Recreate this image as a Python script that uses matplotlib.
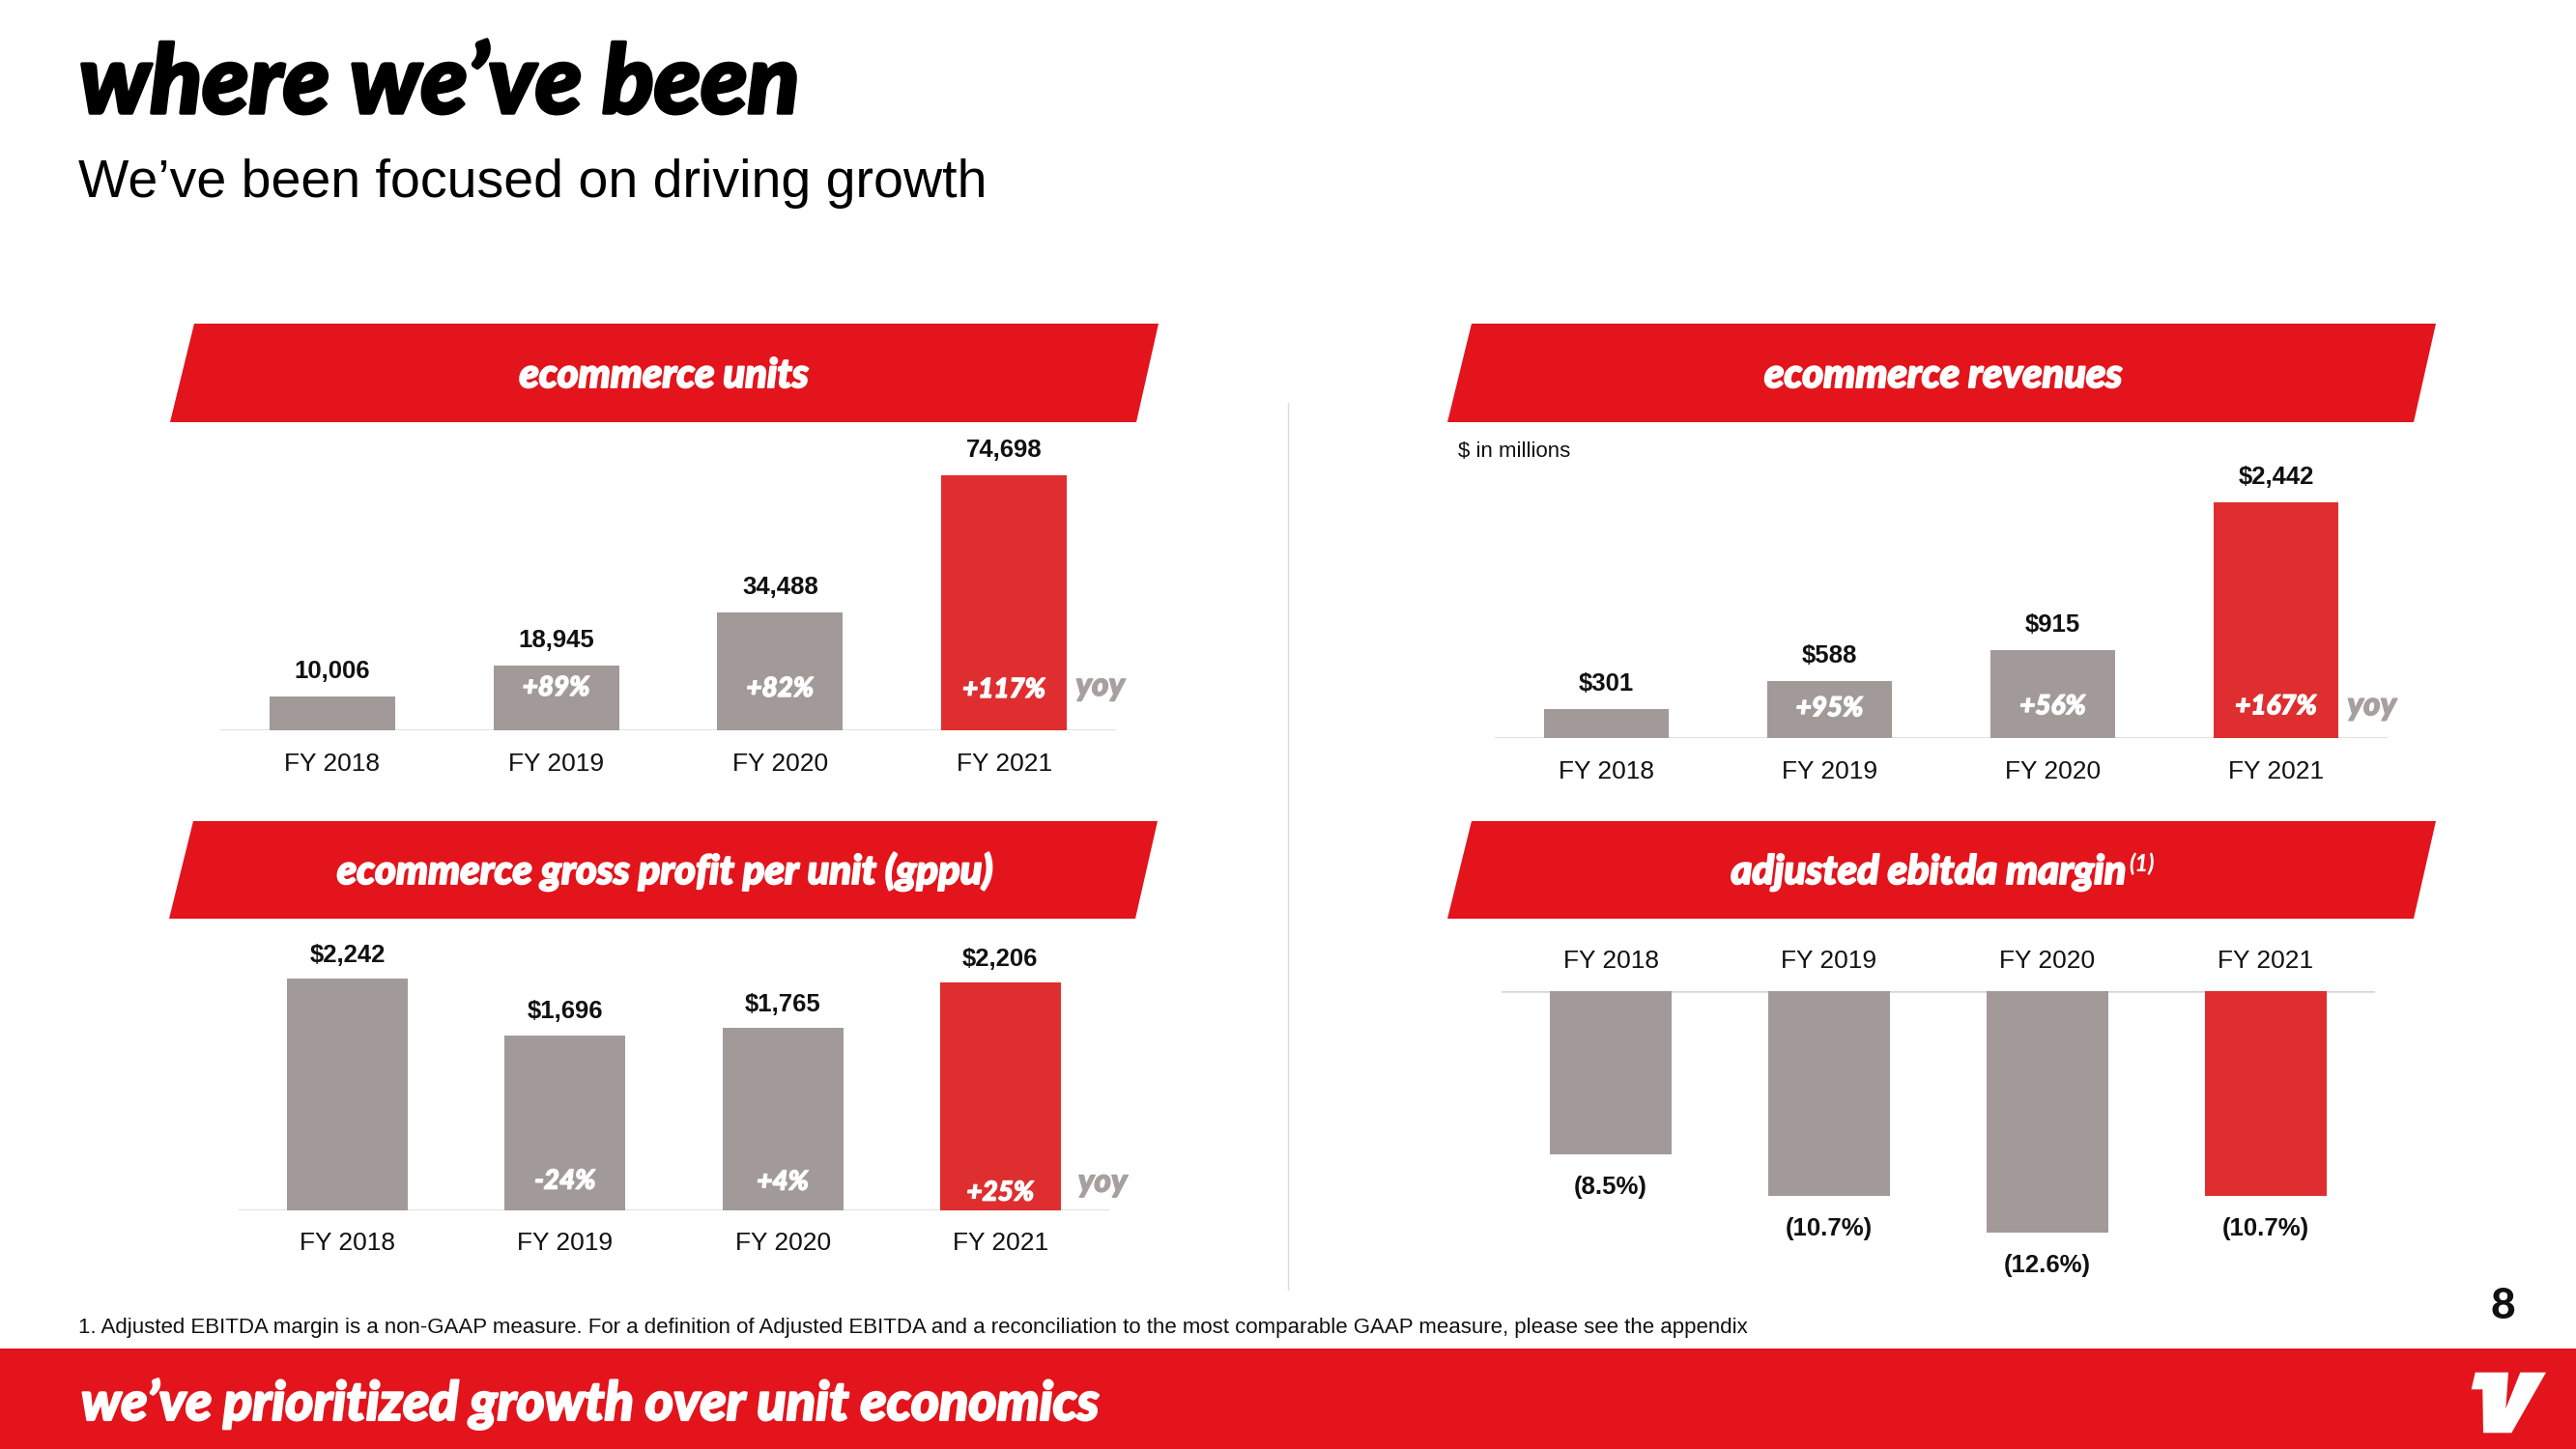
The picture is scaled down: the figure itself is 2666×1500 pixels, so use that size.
import matplotlib
matplotlib.use('Agg')
import matplotlib.pyplot as plt
import matplotlib.patheffects as pe
from matplotlib.patches import Polygon, Rectangle

W, H = 2666, 1500

years = ['FY 2018', 'FY 2019', 'FY 2020', 'FY 2021']
units = [10006, 18945, 34488, 74698]
units_yoy = ['', '+89%', '+82%', '+117%']
revenues = [301, 588, 915, 2442]
revenues_yoy = ['', '+95%', '+56%', '+167%']
gppu = [2242, 1696, 1765, 2206]
gppu_yoy = ['', '-24%', '+4%', '+25%']
ebitda_margin = [-8.5, -10.7, -12.6, -10.7]

RED = '#E3141C'
BAR_RED = '#DF2E2F'
GRAY = '#A29A98'
YOY_GRAY = '#A7A09E'
LINE = '#D6D6D6'
bar_colors = [GRAY, GRAY, GRAY, BAR_RED]

DISPLAY = dict(family=['Lato', 'DejaVu Sans'], weight='black', style='italic')
PLAIN = ['Liberation Sans', 'DejaVu Sans']


def heavy(color, w=1.2):
    return [pe.withStroke(linewidth=w, foreground=color)]


fig = plt.figure(figsize=(W / 100, H / 100), dpi=100)


def panel(x0, x1, base_y, far_y, peak_y, values, width, labels, label_off, fy_off):
    # base_y: pixel row of the zero line, peak_y: row reached by the biggest bar
    scale = abs(base_y - peak_y) / max(abs(v) for v in values)
    top, bottom = min(base_y, far_y), max(base_y, far_y)
    ax = fig.add_axes([x0 / W, 1 - bottom / H, (x1 - x0) / W, (bottom - top) / H])
    span = (bottom - top) / scale
    if far_y < base_y:
        ax.set_ylim(0, span)
    else:
        ax.set_ylim(-span, 0)
    ax.set_xlim(-0.5, 3.5)
    ax.axis('off')
    xs = range(len(values))
    ax.bar(xs, values, width=width, color=bar_colors, zorder=2)
    ax.axhline(0, color=LINE, lw=1.8, zorder=1)
    for i, v in enumerate(values):
        off = label_off if v > 0 else -label_off
        ax.annotate(labels[i], (i, v), xytext=(0, off), textcoords='offset pixels',
                    ha='center', va='baseline', fontsize=18.5, fontweight='bold',
                    family=PLAIN, color='#111111', annotation_clip=False)
        ax.annotate(years[i], (i, 0), xytext=(0, fy_off), textcoords='offset pixels',
                    ha='center', va='baseline', fontsize=19, family=PLAIN,
                    color='#111111', annotation_clip=False)
    return ax


def yoy_labels(ax, texts, offs, yoy_x, yoy_off):
    for i, s in enumerate(texts):
        if s:
            ax.annotate(s, (i, 0), xytext=(0, offs[i]), textcoords='offset pixels',
                        ha='center', va='baseline', fontsize=20, color='white',
                        annotation_clip=False, zorder=3, path_effects=heavy('white', 1.0),
                        **DISPLAY)
    ax.annotate('yoy', (yoy_x, 0), xytext=(0, yoy_off), textcoords='offset pixels',
                ha='center', va='baseline', fontsize=24, color=YOY_GRAY,
                annotation_clip=False, path_effects=heavy(YOY_GRAY, 1.0), **DISPLAY)


ax1 = panel(228, 1155, 756, 440, 491.7, units, 0.56,
            ['{:,}'.format(v) for v in units], 19, -42)
yoy_labels(ax1, units_yoy, [0, 36, 35, 34], 3.43, 36)

ax2 = panel(1547, 2471, 764.3, 455, 520, revenues, 0.558,
            ['${:,}'.format(v) for v in revenues], 19, -42)
yoy_labels(ax2, revenues_yoy, [0, 23, 25, 25], 3.43, 24)

ax3 = panel(247, 1148, 1252.7, 950, 1013.3, gppu, 0.555,
            ['${:,}'.format(v) for v in gppu], 17.5, -41)
yoy_labels(ax3, gppu_yoy, [0, 22, 21, 10], 3.47, 19)

ax4 = panel(1554, 2458, 1025.7, 1300, 1276, ebitda_margin, 0.555,
            ['({:.1f}%)'.format(abs(v)) for v in ebitda_margin], 41, 24)

# page furniture drawn in pixel coordinates
ov = fig.add_axes([0, 0, 1, 1])
ov.set_xlim(0, W)
ov.set_ylim(H, 0)
ov.axis('off')

banners = [
    [(201, 335), (1199, 335), (1176, 437), (176, 437)],
    [(1523, 335), (2521, 335), (2498, 437), (1498, 437)],
    [(200, 850), (1198, 850), (1175, 951), (175, 951)],
    [(1523, 850), (2521, 850), (2498, 951), (1498, 951)],
]
for b in banners:
    ov.add_patch(Polygon(b, closed=True, fc=RED, ec='none'))

banner_style = dict(va='baseline', fontsize=30, color='white', path_effects=heavy('white', 1.4), **DISPLAY)
ov.text(687, 401, 'ecommerce units', ha='center', **banner_style)
ov.text(2011, 401, 'ecommerce revenues', ha='center', **banner_style)
ov.text(688, 915, 'ecommerce gross profit per unit (gppu)', ha='center', **banner_style)
ov.text(2200, 915, 'adjusted ebitda margin', ha='right', **banner_style)
ov.text(2203, 902, '(1)', ha='left', va='baseline', fontsize=17, color='white', **DISPLAY)

ov.text(82, 117, 'where we\u2019ve been', ha='left', va='baseline', fontsize=71, color='black',
        path_effects=heavy('black', 2.5), **DISPLAY)
ov.text(81, 204, 'We\u2019ve been focused on driving growth', ha='left', va='baseline',
        fontsize=40, family=PLAIN, color='black')
ov.text(1509, 473, '$ in millions', ha='left', va='baseline', fontsize=16, family=PLAIN, color='#111111')

ov.plot([1333, 1333], [417, 1335], color='#DCDCDC', lw=1)

ov.text(81, 1380, '1. Adjusted EBITDA margin is a non-GAAP measure. For a definition of Adjusted EBITDA '
        'and a reconciliation to the most comparable GAAP measure, please see the appendix',
        ha='left', va='baseline', fontsize=16, family=PLAIN, color='#111111')
ov.text(2590, 1365, '8', ha='center', va='baseline', fontsize=32, color='#111111',
        family=['Lato', 'DejaVu Sans'], weight='black')

ov.add_patch(Rectangle((0, 1396), W, H - 1396, fc=RED, ec='none'))
ov.text(84, 1470, 'we\u2019ve prioritized growth over unit economics', ha='left', va='baseline',
        fontsize=40, color='white', path_effects=heavy('white', 1.6), **DISPLAY)
logo = [(2561.7, 1420.7), (2596, 1420.7), (2593.3, 1458.3), (2608.3, 1420.7), (2635, 1420.7),
        (2599.3, 1483.3), (2570, 1483.3), (2569.3, 1438.3), (2557.7, 1438.3)]
ov.add_patch(Polygon(logo, closed=True, fc='white', ec='none'))

fig.savefig('out.png', dpi=100, facecolor='white')
